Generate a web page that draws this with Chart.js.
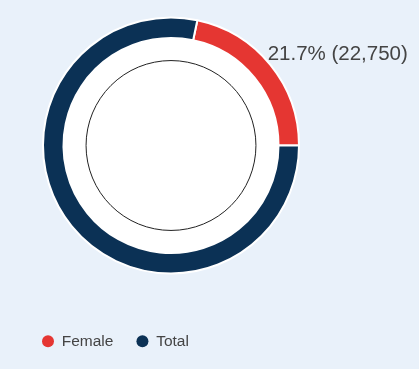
<!DOCTYPE html>
<html>
<head>
<meta charset="utf-8">
<script src="https://cdn.jsdelivr.net/npm/chart.js@4"></script>
<style>
  html, body { margin: 0; padding: 0; background: #e9f1fa; }
  canvas { display: block; }
</style>
</head>
<body>
<canvas id="genderChart" width="419" height="369"></canvas>
<script>
// values
const categories = ['Female', 'Total'];
const values = [22750, 82090]; // female count, rest of the total
const colours = ['#e53632', '#0b3155'];

const share = values[0] / (values[0] + values[1]); // ~21.7%

// white disc inside the ring + thin outline circle
const innerDisc = {
    id: 'innerDisc',
    beforeDatasetsDraw(chart) {
        const arc = chart.getDatasetMeta(0).data[0];
        if (!arc) return;
        const { x, y, innerRadius } = arc.getProps(['x', 'y', 'innerRadius'], true);
        const c = chart.ctx;
        c.save();
        c.fillStyle = '#ffffff';
        c.beginPath();
        c.arc(x, y, innerRadius + 1, 0, Math.PI * 2);
        c.fill();
        c.strokeStyle = '#222';
        c.lineWidth = 1;
        c.beginPath();
        c.arc(x, y, innerRadius * 0.79, 0, Math.PI * 2);
        c.stroke();
        c.restore();
    }
};

// "21.7% (22,750)" label next to the red slice
const sliceLabel = {
    id: 'sliceLabel',
    afterDatasetsDraw(chart) {
        const arc = chart.getDatasetMeta(0).data[0];
        if (!arc) return;
        const { x, y, outerRadius } = arc.getProps(['x', 'y', 'outerRadius'], true);
        const c = chart.ctx;
        const txt = (share * 100).toFixed(1) + '% (' + values[0].toLocaleString('en-US') + ')';
        c.save();
        c.font = '20.5px Helvetica, Arial, "Liberation Sans", sans-serif';
        c.fillStyle = '#444';
        c.textAlign = 'left';
        c.textBaseline = 'alphabetic';
        c.fillText(txt, x + outerRadius * 0.755, y - outerRadius * 0.67);
        c.restore();
    }
};

const ctx = document.getElementById('genderChart').getContext('2d');
new Chart(ctx, {
    type: 'doughnut',
    data: {
        labels: categories,
        datasets: [{
            data: values,
            backgroundColor: colours,
            borderColor: '#ffffff',
            borderWidth: 2,
            radius: 128,
            cutout: '84%',
            rotation: 90 - 360 * share // red slice ends at 3 o'clock
        }]
    },
    options: {
        responsive: false,
        animation: false,
        layout: { padding: { left: 19, right: 96, top: 0, bottom: 10 } },
        plugins: {
            tooltip: { enabled: false },
            legend: {
                position: 'bottom',
                align: 'start',
                title: { display: true, text: '', font: { size: 10, lineHeight: 1 }, padding: { top: 9.5, bottom: 0 } },
                labels: {
                    usePointStyle: true,
                    pointStyle: 'circle',
                    pointStyleWidth: 12,
                    boxHeight: 8.5,
                    padding: 23,
                    color: '#444',
                    font: { size: 15.5, family: 'Helvetica, Arial, "Liberation Sans", sans-serif' },
                    generateLabels(chart) {
                        const items = Chart.overrides.doughnut.plugins.legend.labels.generateLabels(chart);
                        items.forEach(it => { it.lineWidth = 0; it.strokeStyle = it.fillStyle; });
                        return items;
                    }
                }
            }
        }
    },
    plugins: [innerDisc, sliceLabel]
});
</script>
</body>
</html>
